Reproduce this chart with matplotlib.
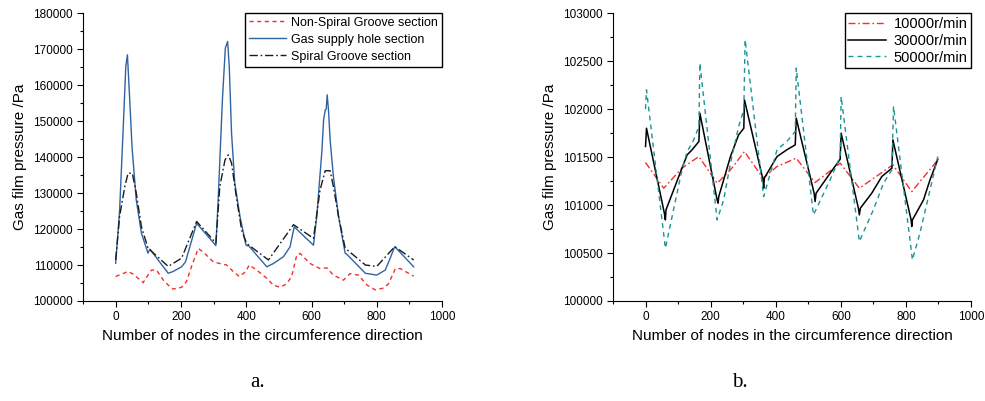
import matplotlib

matplotlib.use("Agg")
import matplotlib.pyplot as plt
from matplotlib.ticker import MultipleLocator

plt.rcParams["font.family"] = ["Liberation Sans", "DejaVu Sans"]

# ---- panel a: three sections ----
hole_x = [0, 12, 24, 31, 36, 43, 50, 63, 79, 99, 100, 105, 161, 176, 202, 214, 248,
          307, 314, 327, 336, 343, 348, 355, 365, 381, 399, 403, 406, 463, 483, 514,
          534, 547, 606, 616, 632, 637, 642, 645, 648, 652, 657, 667, 683, 703, 708,
          765, 800, 826, 841, 855, 913]
hole_p = [110500, 125000, 150000, 165200, 168400, 156000, 143000, 128100, 118800,
          113300, 113600, 114400, 107700, 108200, 109500, 110900, 121600,
          115400, 128100, 155900, 170300, 172100, 165200, 146600, 132700, 123400,
          115600, 115300, 115500, 109500, 110400, 112300,
          115000, 120600, 115500, 123400, 141900, 150300, 153100, 153300, 157300,
          153100, 144800, 134600, 123400, 113300, 113000,
          107700, 107200, 108600, 111900, 115100, 109500]

spiral_x = [0, 12, 28, 38, 51, 63, 79, 99, 161, 202, 248, 307, 319, 335, 345, 355,
            371, 386, 401, 468, 545, 606, 626, 642, 657, 667, 683, 703, 765, 800,
            855, 913]
spiral_p = [111400, 123500, 131800, 135500, 135500, 130000, 120600, 114700, 109600,
            111900, 122100, 116100, 131800, 139200, 140600, 138300,
            128100, 119700, 116000, 111400, 121200, 117400, 130800, 136200, 136200,
            131800, 123400, 114700, 110000, 109600,
            115100, 111400]

nonspiral_x = [0, 38, 53, 84, 99, 110, 125, 146, 161, 176, 202, 217, 232, 253, 268,
               299, 319, 340, 360, 379, 399, 409, 432, 463, 483, 504, 524, 539, 555,
               565, 596, 626, 647, 667, 698, 718, 744, 770, 795, 821, 836, 857, 872,
               913]
nonspiral_p = [106800, 108200, 107500, 105100, 107200, 108600, 108600, 105800, 104400,
               103300, 103800, 105400, 109500, 114600, 113600,
               110900, 110400, 110000, 108200, 106800, 108200, 110000, 108600, 106300,
               104400, 103800, 104800, 106800, 112800,
               113200, 110400, 109000, 109200, 107200, 105800, 107600, 107200, 104400,
               103100, 103600, 104800, 109000, 109000,
               106900]

# ---- panel b: rotating speeds ----
r30_x = [0, 3, 58, 61, 63, 112, 128, 143, 164, 167, 220, 223, 225, 261, 286, 302, 304,
         361, 363, 365, 404, 434, 460, 463, 518, 521, 524, 567, 598, 601, 654, 657,
         660, 695, 726, 757, 760, 816, 818, 820, 854, 874, 898]
r30_p = [101610, 101800, 100914, 100845, 100950, 101384, 101523, 101575, 101662,
         101957, 101053, 101019, 101088, 101505, 101731, 101800, 102096,
         101262, 101175, 101280, 101505, 101575, 101627, 101905, 101123, 101036,
         101123, 101331, 101477, 101749, 100967, 100897,
         100967, 101123, 101297, 101384, 101679, 100845, 100776, 100845, 101053,
         101262, 101477]

r50_x = [0, 3, 61, 112, 128, 148, 164, 167, 220, 240, 261, 286, 302, 306, 363, 404,
         434, 460, 463, 516, 567, 598, 601, 657, 700, 731, 757, 762, 820, 843, 898]
r50_p = [102000, 102200, 100550, 101366, 101557, 101679, 101818, 102479, 100845,
         101053, 101436, 101818, 101992, 102722, 101088, 101575,
         101662, 101766, 102427, 100897, 101262, 101505, 102131, 100620, 100950,
         101227, 101366, 102027, 100428, 100706, 101505]

r10_x = [0, 56, 112, 164, 220, 261, 304, 361, 404, 463, 521, 598, 657, 760, 818, 898]
r10_p = [101443, 101175, 101384, 101505, 101227, 101366, 101557, 101280, 101401,
         101488, 101234, 101436, 101175, 101419, 101140, 101470]

xlabel = "Number of nodes in the circumference direction"
ylabel = "Gas film pressure /Pa"


def style_axes(ax, ylo, yhi, ystep):
    """Origin-like axes: only left and bottom spines, outward ticks."""
    ax.spines["top"].set_visible(False)
    ax.spines["right"].set_visible(False)
    ax.set_xlim(-100, 1000)
    ax.set_ylim(ylo, yhi)
    ax.xaxis.set_major_locator(MultipleLocator(200))
    ax.xaxis.set_minor_locator(MultipleLocator(100))
    ax.yaxis.set_major_locator(MultipleLocator(ystep))
    ax.yaxis.set_minor_locator(MultipleLocator(ystep / 2))
    ax.tick_params(which="major", direction="out", length=4, width=0.8, labelsize=8.5)
    ax.tick_params(which="minor", direction="out", length=2.5, width=0.8)
    ax.set_xlabel(xlabel, fontsize=11)
    ax.set_ylabel(ylabel, fontsize=11)


fig = plt.figure(figsize=(9.85, 4.01), dpi=100)
ax1 = fig.add_axes([0.0843, 0.2494, 0.3645, 0.718])
ax2 = fig.add_axes([0.6223, 0.2494, 0.3635, 0.718])

ax1.plot(nonspiral_x, nonspiral_p, color="#f03030", linestyle=(0, (3, 2.5)),
         linewidth=1.0, label="Non-Spiral Groove section")
ax1.plot(hole_x, hole_p, color="#2f64a3", linewidth=1.0, label="Gas supply hole section")
ax1.plot(spiral_x, spiral_p, color="#1a1a1a", linestyle=(0, (6, 2, 1.2, 2)),
         linewidth=1.0, label="Spiral Groove section")
style_axes(ax1, 100000, 180000, 10000)
leg1 = ax1.legend(loc="upper right", fontsize=9, fancybox=False, framealpha=1,
                  borderaxespad=0, handlelength=3.0, borderpad=0.3, labelspacing=0.4,
                  handletextpad=0.4)
leg1.get_frame().set_edgecolor("black")
leg1.get_frame().set_linewidth(1.0)

ax2.plot(r10_x, r10_p, color="#f03030", linestyle=(0, (5, 2, 1.2, 2)),
         linewidth=1.0, label="10000r/min")
ax2.plot(r30_x, r30_p, color="black", linewidth=1.1, label="30000r/min")
ax2.plot(r50_x, r50_p, color="#1a9494", linestyle=(0, (3.5, 3)),
         linewidth=1.0, label="50000r/min")
style_axes(ax2, 100000, 103000, 500)
leg2 = ax2.legend(loc="upper right", fontsize=10.5, fancybox=False, framealpha=1,
                  borderaxespad=0, handlelength=2.6, borderpad=0.25, labelspacing=0.2,
                  handletextpad=0.5)
leg2.get_frame().set_edgecolor("black")
leg2.get_frame().set_linewidth(1.0)

fig.text(0.261, 0.035, "a.", fontsize=15, family=["Liberation Serif", "DejaVu Serif"],
         ha="center")
fig.text(0.751, 0.035, "b.", fontsize=15, family=["Liberation Serif", "DejaVu Serif"],
         ha="center")

fig.savefig("out.png", dpi=100)
